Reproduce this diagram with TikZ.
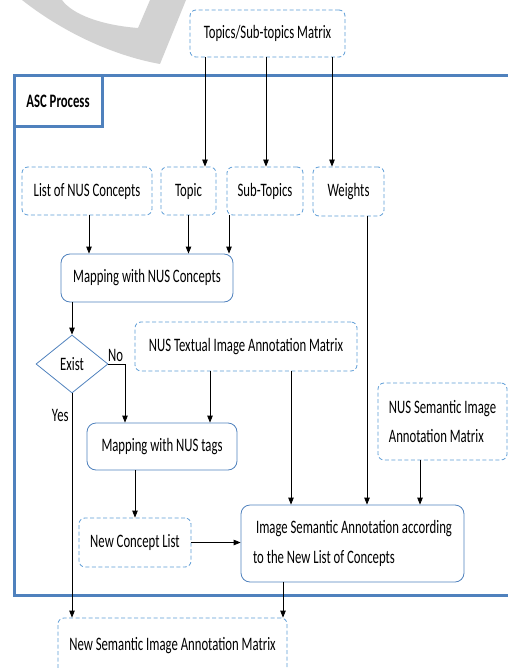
\documentclass[tikz,border=0pt]{standalone}
\usepackage{fontspec}
\setmainfont[FakeStretch=0.67]{Carlito}
\usepackage{tikz}
\usetikzlibrary{arrows.meta,positioning,shapes.geometric}

\definecolor{frameblue}{HTML}{4F81BD}
\definecolor{dashblue}{HTML}{5B9BD5}

\tikzset{
  dbox/.style={draw=dashblue,dash pattern=on 4pt off 2.5pt,rounded corners=6pt,line width=0.8pt,inner sep=0pt},
  pbox/.style={draw=frameblue,rounded corners=9pt,line width=0.8pt,inner sep=0pt},
  arr/.style={-{Triangle[length=7pt,width=5.5pt]},line width=0.8pt}
}

\begin{document}
\begin{tikzpicture}[x=1pt,y=-1pt,font=\fontsize{19}{22}\selectfont]
  \useasboundingbox (0,0) rectangle (507,668);
  % watermark
  \fill[gray!35] (22,0) .. controls (60,30) and (110,55) .. (160,64) -- (186,0) -- (150,0) -- (138,28) .. controls (100,25) and (72,14) .. (62,0) -- cycle;
  % process frame
  \draw[frameblue,line width=3pt] (512,76) -- (14,76) -- (14,595) -- (512,595);
  \node[draw=frameblue,line width=3pt,minimum width=88pt,minimum height=51pt,inner sep=0pt,font=\fontsize{19}{22}\selectfont\bfseries] (asc) at (58,101.5) {ASC Process};
  % inputs
  \node[dbox,minimum width=155pt,minimum height=47pt] (tsm) at (267.5,33.5) {Topics/Sub-topics Matrix};
  \node[dbox,minimum width=130pt,minimum height=48pt] (list) at (87,191) {List of NUS Concepts};
  \node[dbox,minimum width=55pt,minimum height=48pt] (topic) at (188.5,191) {Topic};
  \node[dbox,minimum width=76pt,minimum height=48pt] (sub) at (265,191) {Sub-Topics};
  \node[dbox,minimum width=71pt,minimum height=49pt] (weights) at (348.5,191.5) {Weights};
  \node[pbox,minimum width=172pt,minimum height=48pt] (mapc) at (147,278) {Mapping with NUS Concepts};
  \node[draw=frameblue,line width=0.8pt,diamond,inner sep=0pt,minimum width=72pt,minimum height=58pt] (exist) at (72,364) {Exist};
  \node[dbox,minimum width=222pt,minimum height=49pt] (textual) at (246,346.5) {NUS Textual Image Annotation Matrix};
  \node[pbox,minimum width=150pt,minimum height=47pt] (mapt) at (162,446.5) {Mapping with NUS tags};
  \node[dbox,minimum width=129pt,minimum height=77pt,align=left,font=\fontsize{19}{29}\selectfont] (nsem) at (442.5,421.5) {NUS Semantic Image\\Annotation Matrix};
  \node[dbox,minimum width=112pt,minimum height=49pt] (ncl) at (135,542.5) {New Concept List};
  \node[pbox,minimum width=223pt,minimum height=77pt,align=left,font=\fontsize{19}{30}\selectfont] (isa) at (352.5,543.5) {\hspace{3pt}Image Semantic Annotation according\\to the New List of Concepts};
  \node[dbox,minimum width=229pt,minimum height=56pt] (nsm) at (172.5,646) {New Semantic Image Annotation Matrix};
  % connectors
  \draw[arr] ([xshift=-62.5pt]tsm.south) -- ([xshift=-62.5pt]tsm.south |- topic.north);
  \draw[arr] ([xshift=-1.5pt]tsm.south) -- ([xshift=-1.5pt]tsm.south |- sub.north);
  \draw[arr] ([xshift=64.5pt]tsm.south) -- ([xshift=64.5pt]tsm.south |- weights.north);
  \draw[arr] ([xshift=2pt]list.south) -- ([xshift=2pt]list.south |- mapc.north);
  \draw[arr] (topic.south) -- (topic.south |- mapc.north);
  \draw[arr] ([xshift=-36pt]sub.south) -- ([xshift=-36pt]sub.south |- mapc.north);
  \draw[arr] (exist.north |- mapc.south) -- (exist.north);
  \draw[arr] (exist.east) -| node[pos=0.5,above left,inner sep=1.5pt] {No} ([xshift=-37pt]mapt.north);
  \draw[arr] (exist.south) -- node[pos=0.1,left,inner sep=3pt] {Yes} (exist.south |- nsm.north);
  \draw[arr] ([xshift=-36pt]textual.south) -- ([xshift=-36pt]textual.south |- mapt.north);
  \draw[arr] ([xshift=45pt]textual.south) -- ([xshift=45pt]textual.south |- isa.north);
  \draw[arr] ([xshift=18.5pt]weights.south) -- ([xshift=18.5pt]weights.south |- isa.north);
  \draw[arr] ([xshift=-22.5pt]nsem.south) -- ([xshift=-22.5pt]nsem.south |- isa.north);
  \draw[arr] (ncl.north |- mapt.south) -- (ncl.north);
  \draw[arr] (ncl.east) -- (ncl.east -| isa.west);
  \draw[arr] ([xshift=-69.5pt]isa.south) -- ([xshift=-69.5pt]isa.south |- nsm.north);
\end{tikzpicture}
\end{document}
